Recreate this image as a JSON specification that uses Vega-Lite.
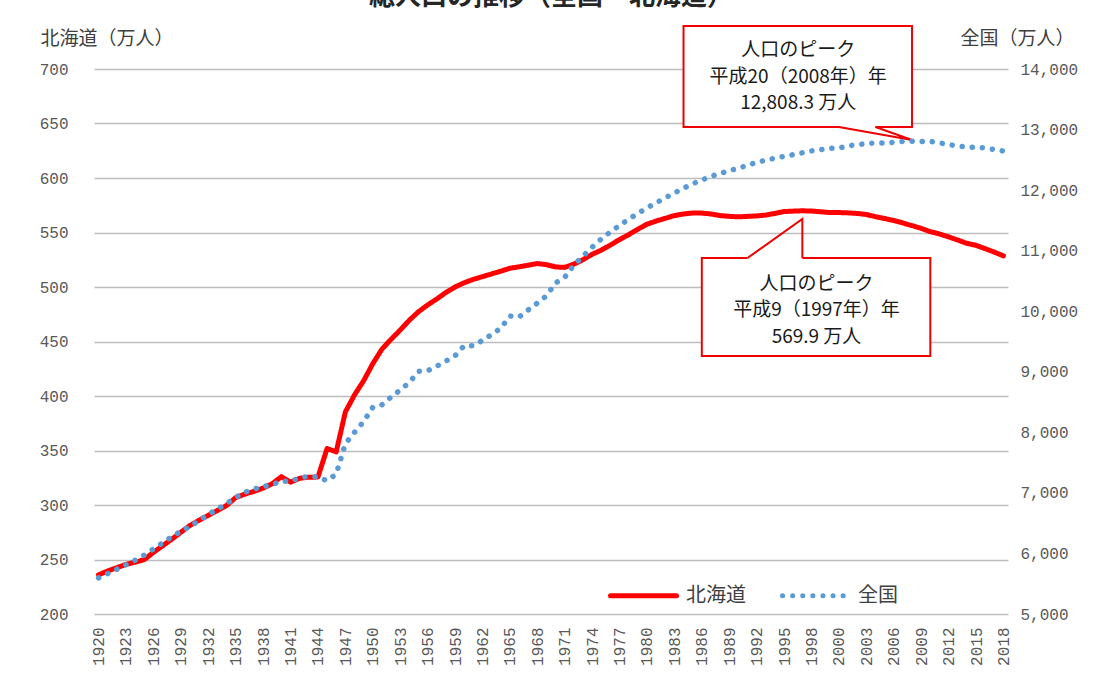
{
  "$schema": "https://vega.github.io/schema/vega-lite/v6.json",
  "width": 914,
  "height": 545,
  "autosize": {"type": "none"},
  "padding": {"left": 94, "top": 69, "right": 87, "bottom": 77},
  "background": "white",
  "title": {"text": "総人口の推移（全国・北海道）", "anchor": "middle", "fontSize": 26, "font": "Noto Sans CJK JP", "fontWeight": "bold", "color": "#262626", "offset": 15},
  "config": {"view": {"stroke": null}, "font": "Noto Sans CJK JP"},
  "datasets": {
    "pop": [
      {"年": "1920", "北海道": 235.9, "全国": 5596.3},
      {"年": "1921", "北海道": 239.5, "全国": 5666.6},
      {"年": "1922", "北海道": 242.5, "全国": 5739.0},
      {"年": "1923", "北海道": 245.5, "全国": 5811.9},
      {"年": "1924", "北海道": 247.5, "全国": 5887.6},
      {"年": "1925", "北海道": 249.9, "全国": 5973.7},
      {"年": "1926", "北海道": 256.5, "全国": 6074.1},
      {"年": "1927", "北海道": 262.5, "全国": 6173.9},
      {"年": "1928", "北海道": 268.5, "全国": 6274.9},
      {"年": "1929", "北海道": 275.0, "全国": 6366.8},
      {"年": "1930", "北海道": 281.2, "全国": 6445.0},
      {"年": "1931", "北海道": 286.0, "全国": 6545.7},
      {"年": "1932", "北海道": 290.5, "全国": 6643.4},
      {"年": "1933", "北海道": 295.0, "全国": 6734.2},
      {"年": "1934", "北海道": 299.5, "全国": 6820.4},
      {"年": "1935", "北海道": 306.8, "全国": 6925.4},
      {"年": "1936", "北海道": 310.0, "全国": 7011.4},
      {"年": "1937", "北海道": 312.5, "全国": 7063.0},
      {"年": "1938", "北海道": 315.5, "全国": 7101.3},
      {"年": "1939", "北海道": 319.5, "全国": 7137.9},
      {"年": "1940", "北海道": 326.0, "全国": 7193.3},
      {"年": "1941", "北海道": 321.0, "全国": 7190.0},
      {"年": "1942", "北海道": 324.5, "全国": 7250.0},
      {"年": "1943", "北海道": 325.5, "全国": 7270.0},
      {"年": "1944", "北海道": 325.6, "全国": 7265.0},
      {"年": "1945", "北海道": 351.8, "全国": 7199.8},
      {"年": "1946", "北海道": 348.8, "全国": 7311.4},
      {"年": "1947", "北海道": 385.3, "全国": 7810.1},
      {"年": "1948", "北海道": 401.0, "全国": 8000.2},
      {"年": "1949", "北海道": 414.0, "全国": 8177.3},
      {"年": "1950", "北海道": 429.6, "全国": 8411.5},
      {"年": "1951", "北海道": 443.0, "全国": 8454.1},
      {"年": "1952", "北海道": 452.0, "全国": 8580.8},
      {"年": "1953", "北海道": 460.5, "全国": 8698.1},
      {"年": "1954", "北海道": 469.5, "全国": 8823.9},
      {"年": "1955", "北海道": 477.3, "全国": 9007.7},
      {"年": "1956", "北海道": 483.5, "全国": 9017.2},
      {"年": "1957", "北海道": 489.0, "全国": 9092.8},
      {"年": "1958", "北海道": 495.0, "全国": 9176.7},
      {"年": "1959", "北海道": 500.0, "全国": 9264.1},
      {"年": "1960", "北海道": 503.9, "全国": 9430.2},
      {"年": "1961", "北海道": 507.0, "全国": 9428.7},
      {"年": "1962", "北海道": 509.5, "全国": 9518.1},
      {"年": "1963", "北海道": 512.0, "全国": 9615.6},
      {"年": "1964", "北海道": 514.5, "全国": 9718.2},
      {"年": "1965", "北海道": 517.2, "全国": 9920.9},
      {"年": "1966", "北海道": 518.5, "全国": 9903.6},
      {"年": "1967", "北海道": 520.0, "全国": 10019.6},
      {"年": "1968", "北海道": 521.5, "全国": 10133.1},
      {"年": "1969", "北海道": 520.5, "全国": 10253.6},
      {"年": "1970", "北海道": 518.4, "全国": 10466.5},
      {"年": "1971", "北海道": 518.0, "全国": 10559.9},
      {"年": "1972", "北海道": 521.0, "全国": 10759.5},
      {"年": "1973", "北海道": 525.0, "全国": 10910.4},
      {"年": "1974", "北海道": 530.0, "全国": 11057.3},
      {"年": "1975", "北海道": 533.8, "全国": 11194.0},
      {"年": "1976", "北海道": 538.5, "全国": 11309.4},
      {"年": "1977", "北海道": 543.5, "全国": 11416.5},
      {"年": "1978", "北海道": 548.0, "全国": 11519.0},
      {"年": "1979", "北海道": 553.0, "全国": 11615.5},
      {"年": "1980", "北海道": 557.6, "全国": 11706.0},
      {"年": "1981", "北海道": 560.5, "全国": 11790.2},
      {"年": "1982", "北海道": 563.0, "全国": 11872.8},
      {"年": "1983", "北海道": 565.5, "全国": 11953.6},
      {"年": "1984", "北海道": 567.0, "全国": 12030.5},
      {"年": "1985", "北海道": 567.9, "全国": 12104.9},
      {"年": "1986", "北海道": 567.8, "全国": 12166.0},
      {"年": "1987", "北海道": 567.0, "全国": 12226.4},
      {"年": "1988", "北海道": 565.5, "全国": 12274.5},
      {"年": "1989", "北海道": 564.8, "全国": 12320.5},
      {"年": "1990", "北海道": 564.4, "全国": 12361.1},
      {"年": "1991", "北海道": 564.8, "全国": 12410.1},
      {"年": "1992", "北海道": 565.2, "全国": 12456.7},
      {"年": "1993", "北海道": 566.0, "全国": 12493.8},
      {"年": "1994", "北海道": 567.5, "全国": 12526.5},
      {"年": "1995", "北海道": 569.2, "全国": 12557.0},
      {"年": "1996", "北海道": 569.6, "全国": 12585.9},
      {"年": "1997", "北海道": 569.9, "全国": 12615.7},
      {"年": "1998", "北海道": 569.7, "全国": 12647.2},
      {"年": "1999", "北海道": 569.0, "全国": 12666.7},
      {"年": "2000", "北海道": 568.3, "全国": 12692.6},
      {"年": "2000 ", "北海道": 568.3, "全国": 12692.6},
      {"年": "2001", "北海道": 568.0, "全国": 12731.6},
      {"年": "2002", "北海道": 567.5, "全国": 12748.6},
      {"年": "2003", "北海道": 566.5, "全国": 12769.4},
      {"年": "2004", "北海道": 564.5, "全国": 12778.7},
      {"年": "2005", "北海道": 562.8, "全国": 12776.8},
      {"年": "2006", "北海道": 560.9, "全国": 12790.1},
      {"年": "2007", "北海道": 558.7, "全国": 12803.3},
      {"年": "2008", "北海道": 556.3, "全国": 12808.3},
      {"年": "2009", "北海道": 553.8, "全国": 12803.2},
      {"年": "2010", "北海道": 550.7, "全国": 12805.7},
      {"年": "2011", "北海道": 548.6, "全国": 12779.9},
      {"年": "2012", "北海道": 546.0, "全国": 12751.5},
      {"年": "2013", "北海道": 543.1, "全国": 12729.8},
      {"年": "2014", "北海道": 540.0, "全国": 12708.3},
      {"年": "2015", "北海道": 538.2, "全国": 12709.5},
      {"年": "2016", "北海道": 535.2, "全国": 12693.3},
      {"年": "2017", "北海道": 532.0, "全国": 12670.6},
      {"年": "2018", "北海道": 528.6, "全国": 12644.3}
    ],
    "boxes": [
      {"左": "1984", "右": "2008", "上": 739.4, "下": 646.8},
      {"左": "1986", "右": "2010", "上": 526.6, "下": 436.7}
    ],
    "openings": [
      {"左": "2000 ", "右": "2004", "値": 646.8},
      {"左": "1991", "右": "1997", "値": 526.6}
    ],
    "wedges": [
      {"id": 1, "o": 1, "年": "2000 ", "値": 646.8},
      {"id": 1, "o": 2, "年": "2008", "値": 634.9},
      {"id": 1, "o": 3, "年": "2004", "値": 646.8},
      {"id": 2, "o": 1, "年": "1991", "値": 526.6},
      {"id": 2, "o": 2, "年": "1997", "値": 562.4},
      {"id": 2, "o": 3, "年": "1997", "値": 526.6}
    ],
    "notes": [
      {"年": "1996", "値": 717.4, "文": "人口のピーク\n平成20（2008年）年\n12,808.3 万人"},
      {"年": "1998", "値": 502.8, "文": "人口のピーク\n平成9（1997年）年\n569.9 万人"}
    ]
  },
  "layer": [
    {
      "layer": [
        {
          "data": {"name": "pop"},
          "mark": {"type": "line", "strokeWidth": 5, "strokeCap": "round", "strokeJoin": "round"},
          "encoding": {
            "x": {
              "field": "年", "type": "ordinal", "title": null,
              "scale": {"type": "point", "padding": 0.5},
              "axis": {
                "orient": "bottom",
                "values": ["1920","1923","1926","1929","1932","1935","1938","1941","1944","1947","1950","1953","1956","1959","1962","1965","1968","1971","1974","1977","1980","1983","1986","1989","1992","1995","1998","2000 ","2003","2006","2009","2012","2015","2018"],
                "labelExpr": "trim(datum.label)",
                "labelAngle": -90, "labelAlign": "right", "labelBaseline": "middle",
                "labelPadding": 13, "ticks": false, "tickSize": 0, "domain": false, "grid": false,
                "labelFont": "Liberation Mono", "labelFontSize": 16, "labelColor": "#595959"
              }
            },
            "y": {
              "field": "北海道", "type": "quantitative", "title": "北海道（万人）",
              "scale": {"domain": [200, 700], "nice": false, "zero": false},
              "axis": {
                "orient": "left",
                "values": [200,250,300,350,400,450,500,550,600,650,700],
                "grid": true, "gridColor": "#bdbdbd", "gridWidth": 1.5,
                "domain": false, "ticks": false, "labelPadding": 26,
                "labelFont": "Liberation Mono", "labelFontSize": 16, "labelColor": "#595959",
                "titleAngle": 0, "titleAlign": "left", "titleBaseline": "middle",
                "titleX": -54, "titleY": -31, "titleFont": "Noto Sans CJK JP", "titleFontSize": 19,
                "titleFontWeight": "normal", "titleColor": "#404040"
              }
            },
            "color": {
              "datum": "北海道", "type": "nominal",
              "scale": {"domain": ["北海道", "全国"], "range": ["#FF0000", "#5B9BD5"]},
              "legend": {
                "orient": "none", "legendX": 514, "legendY": 491, "direction": "horizontal",
                "title": null, "symbolType": "stroke", "symbolSize": 4356, "symbolStrokeWidth": 5,
                "labelFont": "Noto Sans CJK JP", "labelFontSize": 20, "labelColor": "#404040",
                "labelOffset": 7, "columnPadding": 26, "padding": 0,
                "encode": {"symbols": {"update": {"strokeCap": {"value": "round"}}}}
              }
            },
            "strokeDash": {
              "datum": "北海道", "type": "nominal",
              "scale": {"domain": ["北海道", "全国"], "range": [[1, 0], [0.1, 10]]}
            }
          }
        },
        {
          "data": {"name": "boxes"},
          "mark": {"type": "rect", "fill": "white", "stroke": "#F00000", "strokeWidth": 2},
          "encoding": {
            "x": {"field": "左", "type": "ordinal", "title": null, "scale": {"type": "point"}},
            "x2": {"field": "右"},
            "y": {"field": "上", "type": "quantitative", "title": "北海道（万人）"},
            "y2": {"field": "下"}
          }
        },
        {
          "data": {"name": "openings"},
          "mark": {"type": "rule", "color": "white", "strokeWidth": 4},
          "encoding": {
            "x": {"field": "左", "type": "ordinal", "title": null, "scale": {"type": "point"}},
            "x2": {"field": "右"},
            "y": {"field": "値", "type": "quantitative", "title": "北海道（万人）"}
          }
        },
        {
          "data": {"name": "wedges"},
          "mark": {"type": "line", "color": "#F00000", "strokeWidth": 2},
          "encoding": {
            "x": {"field": "年", "type": "ordinal", "title": null, "scale": {"type": "point"}},
            "y": {"field": "値", "type": "quantitative", "title": "北海道（万人）"},
            "detail": {"field": "id"},
            "order": {"field": "o"}
          }
        },
        {
          "data": {"name": "notes"},
          "mark": {"type": "text", "lineBreak": "\n", "lineHeight": 26.5, "fontSize": 19, "font": "Noto Sans CJK JP", "color": "#1a1a1a", "align": "center", "baseline": "middle", "dx": 5},
          "encoding": {
            "x": {"field": "年", "type": "ordinal", "title": null, "scale": {"type": "point"}},
            "y": {"field": "値", "type": "quantitative", "title": "北海道（万人）"},
            "text": {"field": "文"}
          }
        }
      ]
    },
    {
      "data": {"name": "pop"},
      "mark": {"type": "line", "strokeWidth": 5.5, "strokeCap": "round"},
      "encoding": {
        "x": {"field": "年", "type": "ordinal", "title": null, "scale": {"type": "point"}},
        "y": {
          "field": "全国", "type": "quantitative", "title": "全国（万人）",
          "scale": {"domain": [5000, 14000], "nice": false, "zero": false},
          "axis": {
            "orient": "right",
            "values": [5000,6000,7000,8000,9000,10000,11000,12000,13000,14000],
            "labelExpr": "format(datum.value, ',')", "grid": false, "domain": false, "ticks": false, "labelPadding": 12,
            "labelFont": "Liberation Mono", "labelFontSize": 16, "labelColor": "#595959",
            "titleAngle": 0, "titleAlign": "left", "titleBaseline": "middle",
            "titleX": -48, "titleY": -31, "titleFont": "Noto Sans CJK JP", "titleFontSize": 19,
            "titleFontWeight": "normal", "titleColor": "#404040"
          }
        },
        "color": {"datum": "全国", "type": "nominal"},
        "strokeDash": {"datum": "全国", "type": "nominal"}
      }
    }
  ],
  "resolve": {"scale": {"y": "independent"}, "axis": {"y": "independent"}}
}
